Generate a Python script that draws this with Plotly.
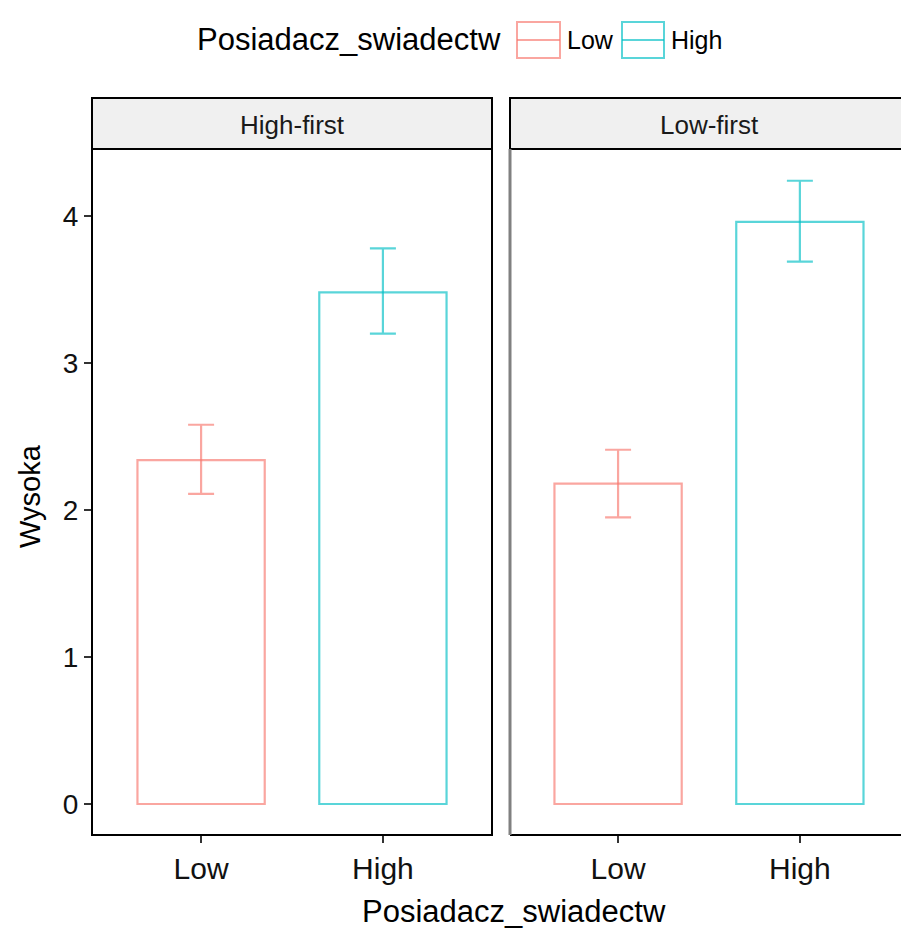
import plotly.graph_objects as go

# ---- data ----
facets = ["High-first", "Low-first"]
groups = ["Low", "High"]
means_high_first = [2.34, 3.48]
lower_high_first = [2.11, 3.20]
upper_high_first = [2.58, 3.78]
means_low_first = [2.18, 3.96]
lower_low_first = [1.95, 3.69]
upper_low_first = [2.41, 4.24]
y_ticks = [0, 1, 2, 3, 4]

line_colors = {"Low": "rgba(248,118,109,0.65)", "High": "rgba(0,191,196,0.65)"}
FONT = "Liberation Sans, Arial, sans-serif"

W, H = 901, 932
L, R, T, B = 92, 0, 149, 932 - 835
PW = W - L - R
PH = H - T - B


def px(x):
    return (x - L) / PW


def py(y):
    return (H - B - y) / PH


fig = go.Figure()

panels = [
    ("x", "y", means_high_first, lower_high_first, upper_high_first),
    ("x2", "y2", means_low_first, lower_low_first, upper_low_first),
]
for xa, ya, m, lo, up in panels:
    for i, g in enumerate(groups):
        fig.add_trace(go.Bar(
            x=[g], y=[m[i]], xaxis=xa, yaxis=ya, width=0.7,
            marker=dict(color="rgba(0,0,0,0)", line=dict(color=line_colors[g], width=2.2)),
            error_y=dict(type="data", symmetric=False,
                         array=[up[i] - m[i]], arrayminus=[m[i] - lo[i]],
                         color=line_colors[g], thickness=2.2, width=13),
            showlegend=False, hoverinfo="skip",
        ))

yr = [-0.211, 4.456]
common_x = dict(type="category", categoryorder="array", categoryarray=groups,
                ticks="outside", ticklen=7, tickcolor="#333333", tickwidth=1.5,
                tickfont=dict(family=FONT, size=30, color="#111111"),
                showgrid=False, zeroline=False, showline=False)
fig.update_layout(
    width=W, height=H, margin=dict(l=L, r=R, t=T, b=B),
    plot_bgcolor="white", paper_bgcolor="white", barmode="overlay",
    xaxis=dict(domain=[0, px(492)], range=[-0.6, 1.6], anchor="y", **common_x),
    xaxis2=dict(domain=[px(509), 1], range=[-0.6, -0.6 + (901 - 509) / 181.8], anchor="y2", **common_x),
    yaxis=dict(domain=[0, 1], range=yr, tickvals=y_ticks, ticks="outside", ticklen=7,
               tickcolor="#333333", tickwidth=1.5,
               tickfont=dict(family=FONT, size=28, color="#111111"),
               showgrid=False, zeroline=False, showline=False, anchor="x"),
    yaxis2=dict(domain=[0, 1], range=yr, showticklabels=False, ticks="",
                showgrid=False, zeroline=False, showline=False, anchor="x2", matches="y"),
    showlegend=False,
)

shapes = []
ann = []
# left panel box
shapes.append(dict(type="rect", xref="paper", yref="paper", x0=0, x1=px(492), y0=0, y1=1,
                   line=dict(color="black", width=2)))
# right panel borders
shapes.append(dict(type="line", xref="paper", yref="paper", x0=px(510), x1=1.01, y0=0, y1=0,
                   line=dict(color="black", width=2)))
shapes.append(dict(type="line", xref="paper", yref="paper", x0=px(510), x1=1.01, y0=1, y1=1,
                   line=dict(color="black", width=2)))
shapes.append(dict(type="line", xref="paper", yref="paper", x0=px(510), x1=px(510), y0=0, y1=1,
                   line=dict(color="#808080", width=3)))
# strips
for (x0, x1), name in zip([(92, 492), (510, 915)], facets):
    shapes.append(dict(type="rect", xref="paper", yref="paper", x0=px(x0), x1=px(x1),
                       y0=1, y1=py(98), fillcolor="#f0f0f0", line=dict(color="black", width=2),
                       layer="below"))
    ann.append(dict(text=name, xref="paper", yref="paper", x=px((x0 + min(x1, 909)) / 2),
                    y=py(125), showarrow=False, xanchor="center", yanchor="middle",
                    font=dict(family=FONT, size=26, color="#1a1a1a")))

# axis titles
ann.append(dict(text="Posiadacz_swiadectw", xref="paper", yref="paper", x=px(514), y=py(911),
                showarrow=False, xanchor="center", yanchor="middle",
                font=dict(family=FONT, size=31, color="black")))
ann.append(dict(text="Wysoka", xref="paper", yref="paper", x=px(30), y=py(496), textangle=-90,
                showarrow=False, xanchor="center", yanchor="middle",
                font=dict(family=FONT, size=29, color="black")))

# legend (manual, ggplot style)
ann.append(dict(text="Posiadacz_swiadectw", xref="paper", yref="paper", x=px(195), y=py(40),
                showarrow=False, xanchor="left", yanchor="middle",
                font=dict(family=FONT, size=31, color="black")))
for (bx0, bx1, tx), g in zip([(517, 560, 565), (622, 664, 669)], groups):
    shapes.append(dict(type="rect", xref="paper", yref="paper", x0=px(bx0), x1=px(bx1),
                       y0=py(58), y1=py(22), line=dict(color=line_colors[g], width=2),
                       fillcolor="white"))
    shapes.append(dict(type="line", xref="paper", yref="paper", x0=px(bx0), x1=px(bx1),
                       y0=py(40), y1=py(40), line=dict(color=line_colors[g], width=2.2)))
    ann.append(dict(text=g, xref="paper", yref="paper", x=px(tx), y=py(40),
                    showarrow=False, xanchor="left", yanchor="middle",
                    font=dict(family=FONT, size=25, color="black")))

fig.update_layout(shapes=shapes, annotations=ann)
fig.write_html("out.html", config={"displayModeBar": False},
               post_script="document.body.style.margin='0';document.body.style.overflow='hidden';")
